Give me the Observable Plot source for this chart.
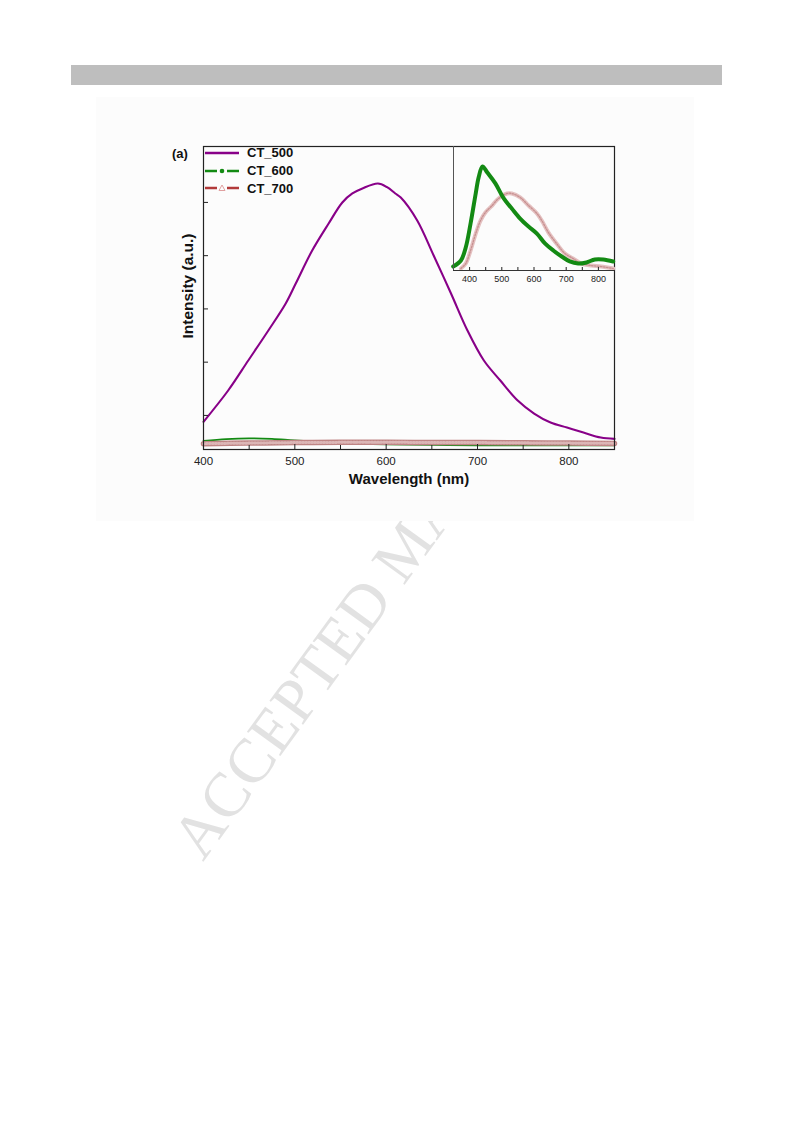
<!DOCTYPE html>
<html>
<head>
<meta charset="utf-8">
<script src="https://cdn.jsdelivr.net/npm/d3@7"></script>
<script src="https://cdn.jsdelivr.net/npm/@observablehq/plot@0.6"></script>
<style>
  html, body { margin: 0; padding: 0; background: #fff; width: 793px; height: 1123px; overflow: hidden; font-family: "Liberation Sans", Arial, sans-serif; }
  .abs { position: absolute; }
  #bar { left: 71px; top: 65px; width: 651px; height: 20px; background: #bebebe; }
  #wm { left: 186px; top: 850px; transform-origin: 0 0; transform: rotate(-54deg); font-family: "Liberation Serif", "Times New Roman", serif; font-size: 63px; line-height: 0; color: #e2e2e2; white-space: nowrap; }
  #fig { left: 96px; top: 97px; width: 598px; height: 424px; background: #fcfcfc; }
  .lab { font-weight: bold; color: #111; white-space: nowrap; }
  .leg { font-weight: bold; font-size: 13px; color: #111; white-space: nowrap; line-height: 1; }
</style>
</head>
<body>
<div id="bar" class="abs"></div>
<div id="wm" class="abs">ACCEPTED MANUSCRIPT</div>
<div id="fig" class="abs"></div>
<div id="main" class="abs" style="left:0;top:0"></div>
<div id="inset" class="abs" style="left:420px;top:140px"></div>
<div id="labels"></div>
<script>
// ---------- data ----------
const series = ["CT_500", "CT_600", "CT_700"];
const seriesColors = ["#880088", "#138a13", "#b23a3a"];

// main panel
const wl500 = [400, 427, 449, 471, 490, 501, 519, 537, 552, 563, 574, 591, 601, 610, 616, 634, 652, 671, 689, 707, 725, 744, 762, 780, 798, 816, 835, 850];
const int500 = [880, 1468, 2031, 2595, 3102, 3477, 4097, 4604, 4999, 5168, 5262, 5355, 5286, 5168, 5093, 4661, 4003, 3290, 2595, 2031, 1655, 1280, 1036, 867, 773, 679, 585, 560];

const wl600 = [400, 425, 450, 475, 500, 550, 600, 650, 700, 750, 800, 850];
const int600 = [520, 555, 570, 560, 530, 480, 455, 445, 440, 440, 440, 440];

const wl700 = [400, 450, 500, 550, 600, 650, 700, 750, 800, 850];
const int700 = [470, 480, 490, 494, 495, 492, 490, 485, 480, 475];

// inset (normalised intensity)
const wlIn600 = [349, 373, 388, 403, 419, 428, 440, 455, 480, 506, 531, 557, 583, 609, 634, 660, 686, 711, 737, 763, 789, 815, 846];
const intIn600 = [0.032, 0.081, 0.185, 0.379, 0.621, 0.750, 0.839, 0.790, 0.702, 0.581, 0.500, 0.419, 0.355, 0.298, 0.218, 0.161, 0.113, 0.073, 0.056, 0.065, 0.089, 0.089, 0.073];

const wlIn700 = [373, 388, 403, 419, 434, 449, 470, 490, 516, 531, 557, 583, 609, 624, 645, 670, 696, 721, 747, 778, 808, 846];
const intIn700 = [0.016, 0.056, 0.161, 0.298, 0.403, 0.468, 0.524, 0.581, 0.621, 0.621, 0.589, 0.524, 0.460, 0.403, 0.306, 0.218, 0.137, 0.097, 0.056, 0.040, 0.032, 0.016];

const xTicksMain = [400, 500, 600, 700, 800];
const xMinorMain = [450, 550, 650, 750];
const yTicksMain = [1000, 2000, 3000, 4000, 5000];
const xTicksInset = [400, 500, 600, 700, 800];
const xMinorInset = [450, 550, 650, 750];

const xLabel = "Wavelength (nm)";
const yLabel = "Intensity (a.u.)";
const panelLabel = "(a)";

// ---------- build tables ----------
const zip = (xs, ys) => xs.map((x, i) => ({x, y: ys[i]}));
const d500 = zip(wl500, int500);
const d600 = zip(wl600, int600);
const d700 = zip(wl700, int700);
const dIn600 = zip(wlIn600, intIn600);
const dIn700 = zip(wlIn700, intIn700);
const blank = () => "";

// ---------- main plot ----------
const main = Plot.plot({
  width: 793, height: 600,
  marginLeft: 203, marginRight: 179, marginTop: 146, marginBottom: 151,
  style: {background: "transparent", fontFamily: "Liberation Sans, Arial, sans-serif", fontSize: "11.5px", color: "#222"},
  x: {domain: [400, 850]},
  y: {domain: [360, 6050]},
  marks: [
    Plot.line(d600, {x: "x", y: "y", stroke: seriesColors[1], strokeWidth: 1.8, curve: "catmull-rom"}),
    Plot.line(d700, {x: "x", y: "y", stroke: "#bf8585", strokeWidth: 5.5, curve: "catmull-rom"}),
    Plot.line(d700, {x: "x", y: "y", stroke: "#dcb6b6", strokeWidth: 3, strokeDasharray: "1,2", curve: "catmull-rom"}),
    Plot.line(d500, {x: "x", y: "y", stroke: seriesColors[0], strokeWidth: 2.1, curve: "catmull-rom"}),
    Plot.axisX({ticks: xTicksMain, tickSize: 0, tickPadding: 7, label: null, fontSize: 11.5}),
    Plot.axisX({ticks: xTicksMain, tickSize: -5, tickFormat: blank, label: null}),
    Plot.axisX({ticks: xMinorMain, tickSize: -4, tickFormat: blank, label: null}),
    Plot.axisY({ticks: yTicksMain, tickSize: -5, tickFormat: blank, label: null}),
    Plot.frame({stroke: "#222", strokeWidth: 1.2})
  ]
});
document.getElementById("main").appendChild(main);

// ---------- inset ----------
const inset = Plot.plot({
  width: 200, height: 150,
  marginLeft: 33, marginRight: 6, marginTop: 6, marginBottom: 20,
  style: {background: "transparent", fontFamily: "Liberation Sans, Arial, sans-serif", fontSize: "9px", color: "#222"},
  x: {domain: [350, 850]},
  y: {domain: [0, 1], axis: null},
  marks: [
    Plot.line(dIn700, {x: "x", y: "y", stroke: "#e4c0c0", strokeWidth: 4, curve: "catmull-rom"}),
    Plot.line(dIn700, {x: "x", y: "y", stroke: "#c79090", strokeWidth: 1.3, strokeDasharray: "1.5,1.5", curve: "catmull-rom"}),
    Plot.line(dIn600, {x: "x", y: "y", stroke: seriesColors[1], strokeWidth: 4, curve: "catmull-rom"}),
    Plot.axisX({ticks: xTicksInset, tickSize: 0, tickPadding: 5, label: null, fontSize: 9}),
    Plot.axisX({ticks: xTicksInset, tickSize: -3, tickFormat: blank, label: null}),
    Plot.axisX({ticks: xMinorInset, tickSize: -3, tickFormat: blank, label: null}),
    Plot.ruleX([350], {stroke: "#555", strokeWidth: 1}),
    Plot.ruleY([0], {stroke: "#333", strokeWidth: 1.2})
  ]
});
document.getElementById("inset").appendChild(inset);

// ---------- text labels & legend ----------
const L = document.getElementById("labels");
function addDiv(html, css, cls) {
  const d = document.createElement("div");
  d.className = "abs " + (cls || "");
  d.style.cssText = css;
  d.innerHTML = html;
  L.appendChild(d);
  return d;
}
addDiv(xLabel, "left:409px;top:478px;transform:translate(-50%,-50%);font-size:15px;", "lab");
addDiv(yLabel, "left:188px;top:286px;transform:translate(-50%,-50%) rotate(-90deg);font-size:15.5px;", "lab");
addDiv(panelLabel, "left:172px;top:146px;font-size:13px;", "lab");

const legendY = [152.5, 170.5, 188];
const sampleSvg = (i) => {
  const c = seriesColors[i];
  if (i === 0) return `<svg width="36" height="10"><line x1="1" y1="5" x2="35" y2="5" stroke="${c}" stroke-width="2.5"/></svg>`;
  if (i === 1) return `<svg width="36" height="10"><line x1="1" y1="5" x2="13" y2="5" stroke="${c}" stroke-width="2.5"/><line x1="23" y1="5" x2="35" y2="5" stroke="${c}" stroke-width="2.5"/><circle cx="18" cy="5" r="2.3" fill="${c}"/></svg>`;
  return `<svg width="36" height="10"><line x1="1" y1="5" x2="13" y2="5" stroke="${c}" stroke-width="2.5"/><line x1="23" y1="5" x2="35" y2="5" stroke="${c}" stroke-width="2.5"/><path d="M18,2 L21,7.5 L15,7.5 Z" fill="none" stroke="#e0a0a0" stroke-width="1"/></svg>`;
};
series.forEach((s, i) => {
  addDiv(sampleSvg(i), `left:204px;top:${legendY[i] - 5}px;line-height:0;`);
  addDiv(s, `left:247px;top:${legendY[i] - 6.5}px;`, "leg");
});
</script>
</body>
</html>
